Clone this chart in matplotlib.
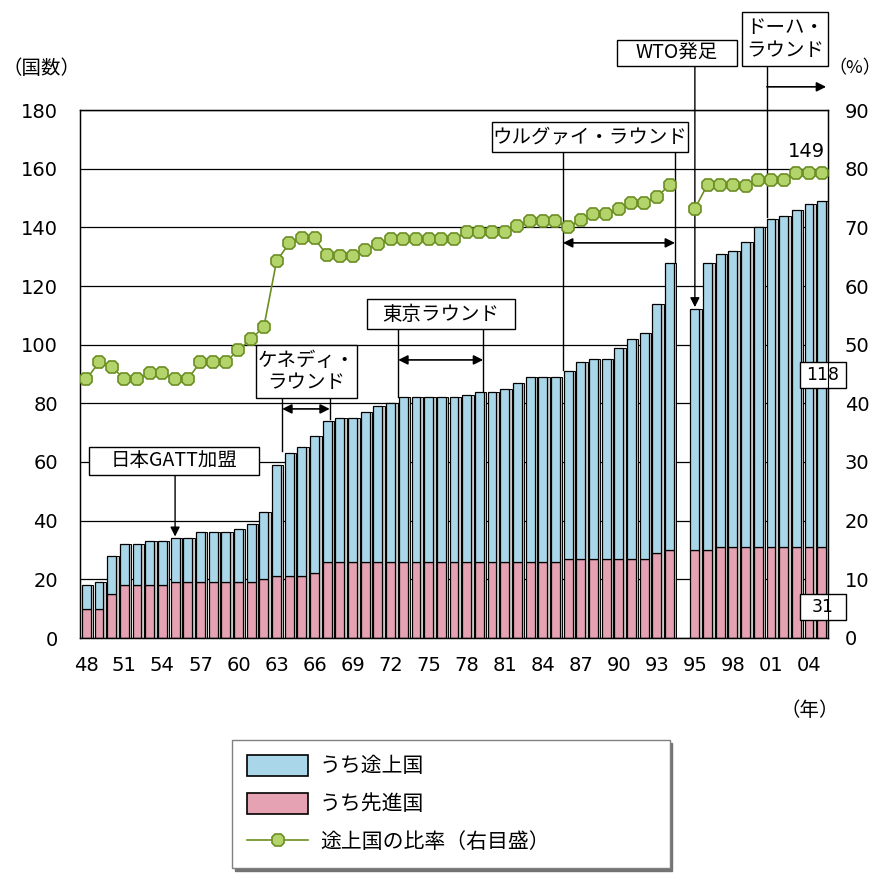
import numpy as np
import matplotlib
matplotlib.use('Agg')
import matplotlib.pyplot as plt
from matplotlib.patches import Patch, Rectangle
from matplotlib.lines import Line2D

plt.rcParams['font.family'] = ['Noto Sans CJK JP', 'DejaVu Sans']

years = np.arange(1948, 2006)

# うち途上国 (countries)
developing = [8, 9, 13, 14, 14, 15, 15, 15, 15, 17, 17, 17, 18, 20, 23,
              38, 42, 44, 47, 48, 49, 49, 51, 53, 54, 56, 56, 56, 56, 56,
              57, 58, 58, 59, 61, 63, 63, 63, 64, 67, 68, 68, 72, 75, 77,
              85, 98, 82, 98, 100, 101, 104, 109, 112, 113, 115, 117, 118]

# うち先進国 (countries)
developed = [10, 10, 15, 18, 18, 18, 18, 19, 19, 19, 19, 19, 19, 19, 20,
             21, 21, 21, 22, 26, 26, 26, 26, 26, 26, 26, 26, 26, 26, 26,
             26, 26, 26, 26, 26, 26, 26, 26, 27, 27, 27, 27, 27, 27, 27,
             29, 30, 30, 30, 31, 31, 31, 31, 31, 31, 31, 31, 31]

# 途上国の比率 (%)
ratio = [44.1, 47.0, 46.2, 44.2, 44.1, 45.1, 45.2, 44.2, 44.1, 47.1, 47.1, 47.1, 49.1, 51.0, 53.0,
         64.2, 67.3, 68.1, 68.1, 65.2, 65.1, 65.1, 66.2, 67.1, 68.0, 68.0, 68.0, 68.0, 68.0, 68.0,
         69.2, 69.2, 69.2, 69.2, 70.2, 71.1, 71.1, 71.1, 70.0, 71.3, 72.2, 72.2, 73.2, 74.2, 74.2,
         75.2, 77.2, 73.2, 77.3, 77.2, 77.2, 77.0, 78.1, 78.1, 78.1, 79.3, 79.3, 79.3]

tick_years = list(range(1948, 1994, 3)) + [1995, 1998, 2001, 2004]

developing = np.array(developing)
developed = np.array(developed)
ratio = np.array(ratio)

blue = '#a9d6e8'
pink = '#e4a2b2'
green_face = '#b3d36b'
green_edge = '#6b8e23'
num_font = 'DejaVu Sans'


def slot(y):
    # leave one empty slot between 1994 and 1995 (GATT -> WTO)
    return np.asarray(y) + (np.asarray(y) >= 1995)


x = slot(years)
total = developed + developing

fig = plt.figure(figsize=(8.84, 8.75), dpi=100)
ax = fig.add_axes([80 / 884, 1 - 638 / 875, 748 / 884, 528 / 875])
ax.set_axisbelow(True)

# depth strip behind each bar
ax.bar(x + 0.2, total, width=0.7, color='#c8c8c8', edgecolor='black', linewidth=0.7, zorder=1)
ax.bar(x, developed, width=0.7, color=pink, edgecolor='black', linewidth=0.9, zorder=2)
ax.bar(x, developing, bottom=developed, width=0.7, color=blue, edgecolor='black', linewidth=0.9, zorder=2)

ax.set_xlim(1947.5, 2006.5)
ax.set_ylim(0, 180)
ax.set_yticks(np.arange(0, 181, 20))
ax.yaxis.grid(True, color='black', linewidth=0.9)
ax.set_xticks(slot(tick_years))
ax.set_xticklabels([f'{y % 100:02d}' for y in tick_years])
ax.tick_params(axis='both', length=0, labelsize=14)
ax.tick_params(axis='x', pad=13)
ax.tick_params(axis='y', pad=16)
for s in ax.spines.values():
    s.set_linewidth(1.0)

ax2 = ax.twinx()
ax2.set_ylim(0, 90)
ax2.set_yticks(np.arange(0, 91, 10))
ax2.tick_params(axis='y', length=0, labelsize=14, pad=12)
for part in (x < 1995, x > 1995):
    ax2.plot(x[part], ratio[part], color=green_edge, linewidth=1.2, marker='8', markersize=9.5,
             markerfacecolor=green_face, markeredgecolor=green_edge, markeredgewidth=1.2, zorder=3)

for lab in ax.get_xticklabels() + ax.get_yticklabels() + ax2.get_yticklabels():
    lab.set_fontfamily(num_font)

# event boxes and round markers
box_kw = dict(ha='center', va='center', fontsize=14, zorder=7, linespacing=1.1)


def box(x0, x1, y0, y1, text, **kw):
    ax.add_patch(Rectangle((x0, y0), x1 - x0, y1 - y0, facecolor='white', edgecolor='black',
                           linewidth=1.0, zorder=6, clip_on=False))
    ax.text((x0 + x1) / 2, (y0 + y1) / 2, text, clip_on=False, **{**box_kw, **kw})


def vline(xv, y0, y1):
    ax.plot([xv, xv], [y0, y1], color='black', linewidth=1.0, zorder=5, clip_on=False)


def span(x0, x1, yv, style='<|-|>'):
    ax.annotate('', xy=(x1, yv), xytext=(x0, yv), annotation_clip=False,
                arrowprops=dict(arrowstyle=style, color='black', lw=1.2, mutation_scale=14,
                                shrinkA=0, shrinkB=0), zorder=5)


def pointer(xv, y0, y1):
    ax.annotate('', xy=(xv, y1), xytext=(xv, y0), annotation_clip=False,
                arrowprops=dict(arrowstyle='-|>', color='black', lw=1.0, mutation_scale=14,
                                shrinkA=0, shrinkB=0), zorder=5)


# Japan joins GATT (1955)
box(1948.2, 1961.6, 55.6, 65.1, '日本GATT加盟')
pointer(1955, 55.6, 34.6)

# Kennedy round 1964-67
box(1961.4, 1969.35, 81.8, 99.9, 'ケネディ・\nラウンド')
vline(1963.45, 81.8, 63.8)
vline(1967.2, 81.8, 74.5)
span(1963.45, 1967.2, 78.1)

# Tokyo round 1973-79
box(1970.15, 1981.8, 105.3, 115.6, '東京ラウンド')
vline(1972.6, 105.3, 82.3)
vline(1979.3, 105.3, 84.3)
span(1972.6, 1979.3, 94.8)

# Uruguay round 1986-94
box(1980.0, 1995.45, 165.7, 175.9, 'ウルグァイ・ラウンド')
vline(1985.6, 165.7, 91.3)
vline(1994.43, 165.7, 128.3)
span(1985.6, 1994.43, 134.7)

# WTO launch (1995)
box(1989.85, 1999.3, 195.0, 203.9, 'WTO発足')
pointer(slot(1995), 195.0, 112.8)

# Doha round from 2001
box(1999.7, 2006.5, 195.0, 213.4, 'ドーハ・\nラウンド')
vline(slot(2001) - 0.32, 195.0, 143.5)
span(slot(2001) - 0.32, 2006.35, 187.9, style='-|>')

# latest-year values
ax.text(2004.76, 165.7, f'{total[-1]}', ha='center', va='center', fontsize=14, zorder=7,
        fontfamily=num_font)
box(2004.3, 2007.9, 85.2, 94.1, f'{developing[-1]}', fontfamily=num_font, fontsize=12.5)
box(2004.3, 2007.9, 6.1, 15.0, f'{developed[-1]}', fontfamily=num_font, fontsize=12.5)

fig.text(42 / 884, 1 - 68 / 875, '（国数）', ha='center', va='center', fontsize=14)
fig.text(855 / 884, 1 - 68 / 875, '（%）', ha='center', va='center', fontsize=13)
fig.text(810 / 884, 1 - 710 / 875, '（年）', ha='center', va='center', fontsize=14)

handles = [
    Patch(facecolor=blue, edgecolor='black', linewidth=1.2),
    Patch(facecolor=pink, edgecolor='black', linewidth=1.2),
    Line2D([], [], color=green_edge, linewidth=1.2, marker='8', markersize=9.5,
           markerfacecolor=green_face, markeredgecolor=green_edge, markeredgewidth=1.2),
]
labels = ['うち途上国', 'うち先進国', '途上国の比率（右目盛）']
leg = fig.legend(handles, labels, loc='upper left',
                 bbox_to_anchor=(222 / 884, 1 - 873 / 875, 458 / 884, 143 / 875),
                 mode='expand', fontsize=15, frameon=True, fancybox=False,
                 shadow={'color': '0.45', 'alpha': 1.0}, edgecolor='0.5',
                 handlelength=2.95, handleheight=1.15, labelspacing=0.75,
                 borderpad=0.7, handletextpad=0.55, numpoints=1)
leg.get_frame().set_linewidth(1.0)

fig.savefig('out.png', dpi=100)
